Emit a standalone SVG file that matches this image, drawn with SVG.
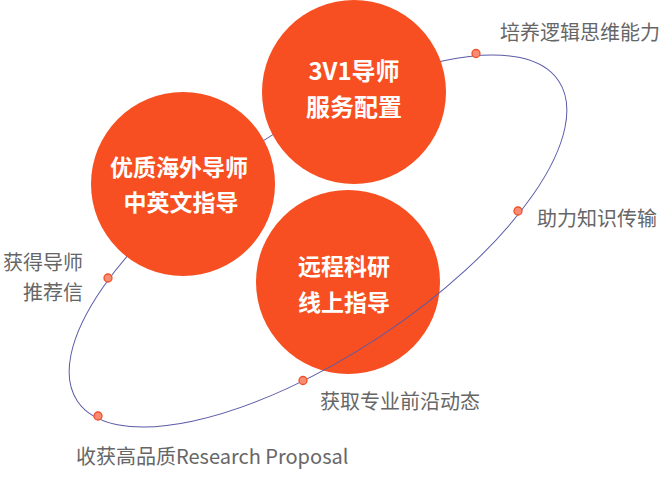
<svg xmlns="http://www.w3.org/2000/svg" width="663" height="478" viewBox="0 0 663 478">
  <style>
    .bubble { fill: #f74f21; }
    .bt { font-family: "Noto Sans CJK SC", "Noto Sans", sans-serif; font-weight: 700; fill: #ffffff; text-anchor: middle; }
    .lbl { font-family: "Noto Sans CJK SC", "Noto Sans", sans-serif; font-size: 20px; fill: #666666; }
    .orbit { fill: none; stroke: #5b5ba8; stroke-width: 1; }
    .dot { fill: #f98d72; stroke: #f0502b; stroke-width: 1.3; }
  </style>
  <rect width="663" height="478" fill="#ffffff"/>

  <g id="node-remote">
    <circle class="bubble" cx="348" cy="282" r="92"/>
    <text class="bt" x="344" y="275" font-size="23">远程科研</text>
    <text class="bt" x="344" y="311" font-size="23">线上指导</text>
  </g>

  <g id="connectors">
    <ellipse class="orbit" cx="318" cy="241" rx="289" ry="114" transform="rotate(-33.6 318 241)"/>
    <circle class="dot" cx="476" cy="53.5" r="4"/>
    <circle class="dot" cx="518" cy="211" r="4"/>
    <circle class="dot" cx="303" cy="380.5" r="4"/>
    <circle class="dot" cx="98" cy="416" r="4"/>
    <circle class="dot" cx="108" cy="278" r="4"/>
  </g>

  <g id="node-3v1">
    <circle class="bubble" cx="354" cy="92" r="92"/>
    <text class="bt" x="354" y="80" font-size="24">3V1导师</text>
    <text class="bt" x="354" y="116" font-size="24">服务配置</text>
  </g>

  <g id="node-overseas">
    <circle class="bubble" cx="183" cy="184" r="92"/>
    <text class="bt" x="179" y="176" font-size="23">优质海外导师</text>
    <text class="bt" x="181" y="211" font-size="23">中英文指导</text>
  </g>

  <g id="labels">
    <text class="lbl" x="500" y="40">培养逻辑思维能力</text>
    <text class="lbl" x="537" y="226">助力知识传输</text>
    <text class="lbl" x="3" y="270">获得导师</text>
    <text class="lbl" x="83" y="300" text-anchor="end">推荐信</text>
    <text class="lbl" x="320" y="409">获取专业前沿动态</text>
    <text class="lbl" x="76" y="464">收获高品质Research Proposal</text>
  </g>
</svg>
